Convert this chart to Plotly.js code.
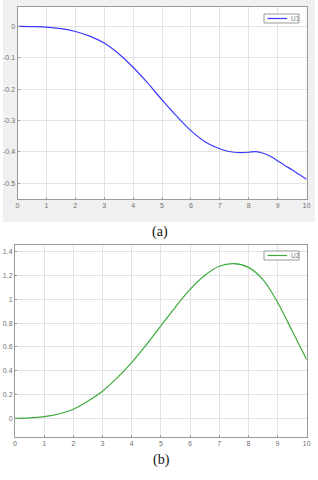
<!DOCTYPE html>
<html><head><meta charset="utf-8">
<script src="https://cdn.plot.ly/plotly-3.0.1.min.js"></script>
<style>html,body{margin:0;padding:0;background:#fff}#c{width:318px;height:480px}</style>
</head><body><div id="c"></div>
<script>
// U1 (panel a)
const x1 = [0,0.5,1,1.5,2,2.5,3,3.5,4,4.5,5,5.5,6,6.5,7,7.25,7.5,7.75,8,8.25,8.5,8.75,9,9.25,9.5,9.75,10];
const u1 = [0,-0.0005,-0.002,-0.007,-0.016,-0.031,-0.053,-0.087,-0.13,-0.18,-0.234,-0.285,-0.332,-0.368,-0.39,-0.397,-0.401,-0.402,-0.401,-0.399,-0.404,-0.414,-0.428,-0.443,-0.457,-0.472,-0.487];
// U2 (panel b)
const x2 = [0,0.5,1,1.5,2,2.5,3,3.5,4,4.5,5,5.5,6,6.5,7,7.5,8,8.5,9,9.5,10];
const u2 = [0,0.003,0.014,0.036,0.076,0.145,0.228,0.34,0.468,0.617,0.777,0.935,1.083,1.2,1.278,1.3,1.268,1.165,0.975,0.735,0.493];
const xTicks = [0,1,2,3,4,5,6,7,8,9,10];
const y1Ticks = [0,-0.1,-0.2,-0.3,-0.4,-0.5];
const y1Text = ["0","-0.1","-0.2","-0.3","-0.4","-0.5"];
const y2Ticks = [0,0.2,0.4,0.6,0.8,1,1.2,1.4];
const y2Text = ["0","0.2","0.4","0.6","0.8","1","1.2","1.4"];
const names = ["U1","U2"];
const colors = ["#3a3aff","#3caa3c"];
const captions = ["(a)","(b)"];

const W = 318, H = 480;
const px = v => v / W, py = v => 1 - v / H;
const tickFont = {family:"Liberation Sans, Arial, sans-serif", size:7, color:"#707070"};
function ax(extra){
  return Object.assign({
    showgrid:true, gridcolor:"#e2e2e2", gridwidth:1,
    showline:true, linecolor:"#9a9a9a", linewidth:1, mirror:true,
    ticks:"inside", ticklen:2, tickcolor:"#9a9a9a",
    zeroline:false, tickfont:tickFont, fixedrange:true
  }, extra);
}

const data = [
  {x:x1, y:u1, type:"scatter", mode:"lines", name:names[0], line:{color:colors[0], width:1.2, shape:"spline", smoothing:1}, xaxis:"x", yaxis:"y"},
  {x:x2, y:u2, type:"scatter", mode:"lines", name:names[1], line:{color:colors[1], width:1.2, shape:"spline", smoothing:1}, xaxis:"x2", yaxis:"y2"}
];

// gray figure background around top plot (with hole for the white plot area)
const g = [3/W, 315/W, 1-222/H, 1];
const p = [17.5/W, 306.5/W, 1-199/H, 1-7/H];
const bgPath = `M${g[0]},${g[2]} L${g[1]},${g[2]} L${g[1]},${g[3]} L${g[0]},${g[3]} Z ` +
               `M${p[0]},${p[2]} L${p[0]},${p[3]} L${p[1]},${p[3]} L${p[1]},${p[2]} Z`;

function legendShapes(top, i){
  return [
    {type:"rect", xref:"paper", yref:"paper", x0:px(264), x1:px(299), y0:py(top+9), y1:py(top), fillcolor:"#fff", line:{color:"#9a9a9a", width:1}},
    {type:"line", xref:"paper", yref:"paper", x0:px(267.5), x1:px(287), y0:py(top+4.5), y1:py(top+4.5), line:{color:colors[i], width:1.2}}
  ];
}
function legendText(top, i){
  return {text:names[i], xref:"paper", yref:"paper", x:px(288.5), y:py(top+4.6), xanchor:"left", yanchor:"middle", showarrow:false,
          font:{family:"Liberation Sans, Arial, sans-serif", size:6.5, color:"#777"}};
}

const layout = {
  width:W, height:H,
  margin:{l:0,r:0,t:0,b:0},
  paper_bgcolor:"#ffffff", plot_bgcolor:"#ffffff",
  showlegend:false,
  xaxis: ax({domain:[p[0],p[1]], range:[0,10], tickvals:xTicks, ticktext:xTicks.map(String), anchor:"y"}),
  yaxis: ax({domain:[p[2],p[3]], range:[-0.55,0.062], tickvals:y1Ticks, ticktext:y1Text, anchor:"x"}),
  xaxis2: ax({domain:[px(15),px(306.7)], range:[0,10], tickvals:xTicks, ticktext:xTicks.map(String), anchor:"y2"}),
  yaxis2: ax({domain:[py(437),py(245)], range:[-0.157,1.456], tickvals:y2Ticks, ticktext:y2Text, anchor:"x2"}),
  shapes:[
    {type:"path", xref:"paper", yref:"paper", path:bgPath, fillcolor:"#f0f0f0", line:{width:0}, layer:"below"}
  ].concat(legendShapes(14,0), legendShapes(251,1)),
  annotations:[
    {text:captions[0], xref:"paper", yref:"paper", x:px(160), y:py(232), showarrow:false, font:{family:"Liberation Serif, Times New Roman, serif", size:14, color:"#111"}},
    {text:captions[1], xref:"paper", yref:"paper", x:px(161), y:py(470), showarrow:false, font:{family:"Liberation Serif, Times New Roman, serif", size:14, color:"#111"}},
    legendText(14,0), legendText(251,1)
  ]
};
Plotly.newPlot("c", data, layout, {displayModeBar:false, staticPlot:true});
</script></body></html>
